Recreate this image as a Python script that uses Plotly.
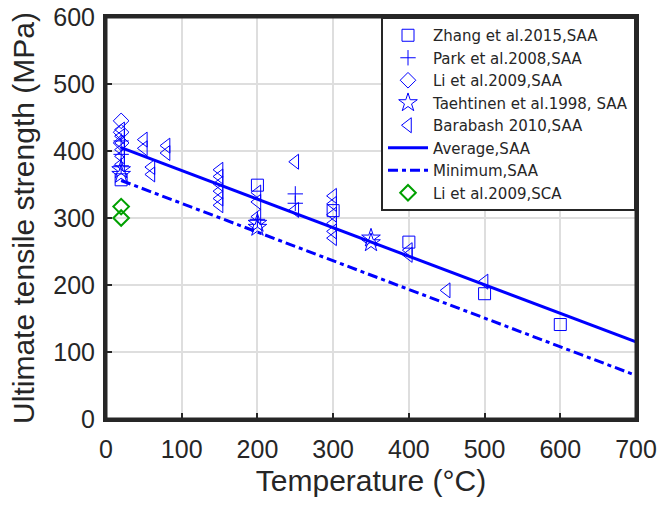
import plotly.graph_objects as go

# Data (Temperature °C, UTS MPa)
zhang_x = [20, 200, 300, 400, 500, 600]
zhang_y = [357, 349, 311, 264, 187, 141]

park_x = [20, 20, 20, 200, 250, 250]
park_y = [415, 395, 378, 298, 336, 322]

li_saa_x = [20, 20, 20]
li_saa_y = [445, 428, 412]

taeh_x = [20, 20, 200, 200, 350, 350]
taeh_y = [372, 365, 292, 286, 270, 263]

bara_x = [20, 20, 20, 20, 20, 20, 50, 50, 60, 60, 80, 80,
          150, 150, 150, 150, 150, 150, 200, 200, 200, 250, 250,
          300, 300, 300, 300, 300, 300, 400, 400, 450, 500]
bara_y = [432, 422, 412, 402, 392, 380, 417, 404, 376, 365, 408, 397,
          372, 362, 351, 340, 329, 319, 338, 324, 302, 384, 312,
          333, 321, 305, 292, 280, 270, 252, 245, 192, 205]

avg_x = [20, 700]
avg_y = [405, 115]

min_x = [20, 700]
min_y = [356, 65]

li_sca_x = [20, 20]
li_sca_y = [317, 300]

BLUE = "#0000FF"
GREEN = "#00A000"
DARK = "#262626"
FONT = "Liberation Sans, Arial, sans-serif"

fig = go.Figure()

def scat(x, y, name, symbol, color=BLUE, size=13, lw=1.0):
    fig.add_trace(go.Scatter(
        x=x, y=y, mode="markers", name=name,
        marker=dict(symbol=symbol, size=size, color=color,
                    line=dict(color=color, width=lw)),
    ))

scat(zhang_x, zhang_y, "Zhang et al.2015,SAA", "square-open", size=12)
scat(park_x, park_y, "Park et al.2008,SAA", "cross-thin-open", size=11)
scat(li_saa_x, li_saa_y, "Li et al.2009,SAA", "diamond-open", size=12)
scat(taeh_x, taeh_y, "Taehtinen et al.1998, SAA", "star-open", size=14)
scat(bara_x, bara_y, "Barabash 2010,SAA", "triangle-left-open", size=13)

fig.add_trace(go.Scatter(x=avg_x, y=avg_y, mode="lines", name="Average,SAA",
                         line=dict(color=BLUE, width=3)))
fig.add_trace(go.Scatter(x=min_x, y=min_y, mode="lines", name="Minimum,SAA",
                         line=dict(color=BLUE, width=3, dash="10px,4px,4px,4px")))

fig.add_trace(go.Scatter(
    x=li_sca_x, y=li_sca_y, mode="markers", name="Li et al.2009,SCA",
    marker=dict(symbol="diamond-open", size=12, color=GREEN,
                line=dict(color=GREEN, width=2)),
))

axis_common = dict(
    showgrid=True, gridcolor="#dedede", gridwidth=2,
    showline=True, linecolor=DARK, linewidth=3, mirror=True,
    ticks="inside", ticklen=6, tickwidth=2, tickcolor=DARK,
    tickfont=dict(family=FONT, size=25, color=DARK),
    zeroline=False, automargin=False,
)

fig.update_xaxes(range=[0, 700], dtick=100, ticklabelstandoff=6,
                 title=dict(text="Temperature (°C)",
                            font=dict(family=FONT, size=30, color=DARK),
                            standoff=8),
                 **axis_common)
fig.update_yaxes(range=[0, 600], dtick=100, ticklabelstandoff=3,
                 title=dict(text="Ultimate tensile strength (MPa)",
                            font=dict(family=FONT, size=30, color=DARK),
                            standoff=10),
                 **axis_common)

fig.add_shape(type="rect", xref="x domain", yref="y domain",
              x0=0, x1=1, y0=0, y1=1, line=dict(color=DARK, width=3),
              layer="above")

fig.update_layout(
    width=659, height=506,
    margin=dict(l=106, r=23, t=17, b=87),
    paper_bgcolor="white", plot_bgcolor="white",
    font=dict(family=FONT, color=DARK),
    legend=dict(
        x=1.0, y=1.0, xanchor="right", yanchor="top",
        bgcolor="white", bordercolor=DARK, borderwidth=2,
        font=dict(family="DejaVu Sans, Liberation Sans, sans-serif", size=15, color=DARK),
        tracegroupgap=0, itemwidth=40,
    ),
    showlegend=True,
)

fig.write_html("out.html")
